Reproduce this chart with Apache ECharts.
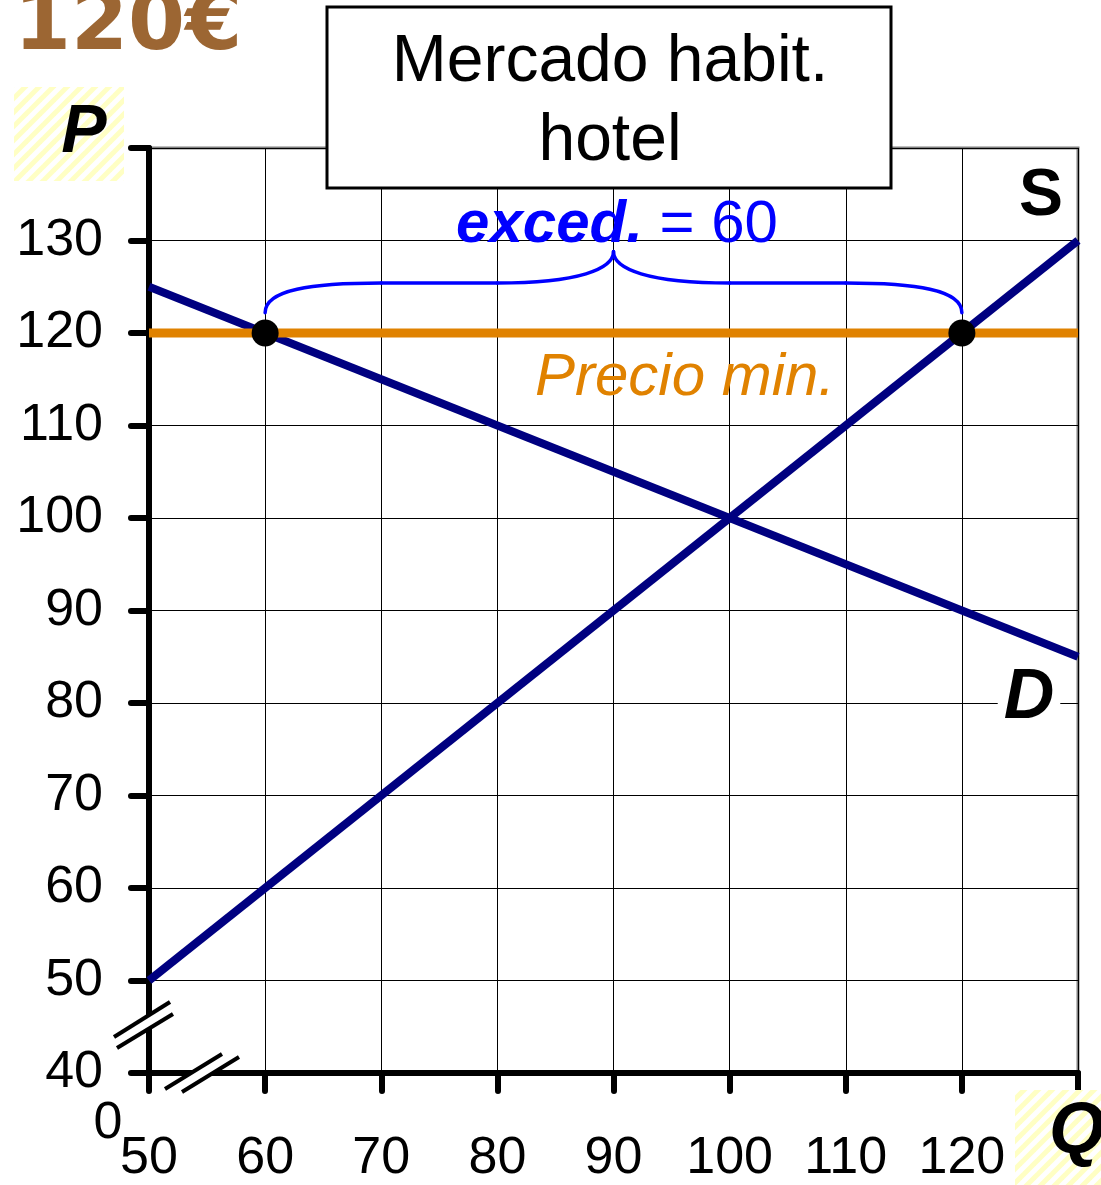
<!DOCTYPE html>
<html>
<head>
<meta charset="utf-8">
<script src="https://cdn.jsdelivr.net/npm/echarts@6/dist/echarts.min.js"></script>
<style>
  html, body { margin: 0; padding: 0; background: #fff; }
  #chart { width: 1101px; height: 1185px; }
</style>
</head>
<body>
<div id="chart"></div>
<script>
// datos del mercado (Q, P)
const demandQ = [50, 130]
const demandP = [125, 85]
const supplyQ = [50, 130]
const supplyP = [50, 130]
const floorPrice = 120
const floorQ = [60, 120]          // Qd, Qs con precio minimo
const xLabels = [50, 60, 70, 80, 90, 100, 110, 120]
const yLabels = [40, 50, 60, 70, 80, 90, 100, 110, 120, 130]
const excess = floorQ[1] - floorQ[0]

const SANS = "'Liberation Sans', Arial, sans-serif"

const chart = echarts.init(document.getElementById('chart'), null, { renderer: 'canvas' })

// trama rayada amarilla para P y Q
function hatch () {
  const c = document.createElement('canvas')
  c.width = 14
  c.height = 14
  const g = c.getContext('2d')
  g.fillStyle = '#fff'
  g.fillRect(0, 0, 14, 14)
  g.strokeStyle = '#FFFFC4'
  g.lineWidth = 5
  for (let k = -1; k <= 1; k++) {
    g.beginPath()
    g.moveTo(k * 14 - 2, 16)
    g.lineTo(k * 14 + 16, -2)
    g.stroke()
  }
  return { image: c, repeat: 'repeat' }
}

const axisStyle = { color: '#000', width: 6, cap: 'round' }

chart.setOption({
  animation: false,
  backgroundColor: '#fff',
  grid: {
    left: 149, top: 148, width: 929, height: 926,
    show: true, borderColor: '#808080', borderWidth: 3, backgroundColor: 'transparent'
  },
  xAxis: {
    type: 'value', min: 50, max: 130, interval: 10,
    axisLine: { lineStyle: axisStyle },
    axisTick: { length: 18, lineStyle: axisStyle },
    splitLine: { lineStyle: { color: '#000', width: 1 } },
    axisLabel: {
      fontFamily: SANS, fontSize: 52, color: '#000', margin: 86, verticalAlign: 'middle',
      formatter: v => xLabels.includes(v) ? String(v) : ''
    }
  },
  yAxis: {
    type: 'value', min: 40, max: 140, interval: 10,
    axisLine: { lineStyle: axisStyle },
    axisTick: { length: 18, lineStyle: axisStyle },
    splitLine: { lineStyle: { color: '#000', width: 1 } },
    axisLabel: {
      fontFamily: SANS, fontSize: 52, color: '#000', margin: 46,
      formatter: v => yLabels.includes(v) ? String(v) : ''
    }
  },
  series: [
    {
      name: 'D', type: 'line', symbol: 'none', z: 3,
      lineStyle: { color: '#000080', width: 8 },
      data: demandQ.map((q, i) => [q, demandP[i]])
    },
    {
      name: 'S', type: 'line', symbol: 'none', z: 3,
      lineStyle: { color: '#000080', width: 8 },
      data: supplyQ.map((q, i) => [q, supplyP[i]])
    },
    {
      name: 'Precio min.', type: 'line', symbol: 'none', z: 4,
      lineStyle: { color: '#E08200', width: 9 },
      data: [[demandQ[0], floorPrice], [demandQ[1], floorPrice]]
    },
    {
      type: 'scatter', symbolSize: 27, z: 5,
      itemStyle: { color: '#000', opacity: 1 },
      data: floorQ.map(q => [q, floorPrice])
    }
  ]
})

// anotaciones (llave, cortes de eje, textos)
const px = (x, y) => chart.convertToPixel({ gridIndex: 0 }, [x, y])
const L = px(floorQ[0], 122.2)
const R = px(floorQ[1], 122.2)
const T = px((floorQ[0] + floorQ[1]) / 2, 128.8)
const h = px(0, 125.4)[1]
const u = px(60, 0)[0] - px(50, 0)[0]
const braceStyle = { fill: 'none', stroke: '#0000FF', lineWidth: 3.5, lineCap: 'round' }
const bez = (x1, y1, cpx1, cpy1, cpx2, cpy2, x2, y2) => ({
  type: 'bezierCurve', z: 50,
  shape: { x1, y1, cpx1, cpy1, cpx2, cpy2, x2, y2 },
  style: braceStyle
})
const seg = (x1, y1, x2, y2) => ({ type: 'line', z: 50, shape: { x1, y1, x2, y2 }, style: braceStyle })
const brace = [
  bez(L[0], L[1], L[0], L[1] - 23, L[0] + 0.4 * u, h, L[0] + u, h),
  seg(L[0] + u, h, T[0] - u, h),
  bez(T[0] - u, h, T[0] - 0.3 * u, h, T[0], h - 14, T[0], T[1]),
  bez(T[0], T[1], T[0], h - 14, T[0] + 0.3 * u, h, T[0] + u, h),
  seg(T[0] + u, h, R[0] - u, h),
  bez(R[0] - u, h, R[0] - 0.4 * u, h, R[0], R[1] - 23, R[0], R[1])
]

const O = px(50, 40)
function breakMark (a, b, c, d) {
  const pts = [a, b, c, d].map(p => [O[0] + p[0], O[1] + p[1]])
  return [
    { type: 'polygon', z: 60, shape: { points: pts }, style: { fill: '#fff' } },
    { type: 'line', z: 61, shape: { x1: pts[0][0], y1: pts[0][1], x2: pts[1][0], y2: pts[1][1] }, style: { stroke: '#000', lineWidth: 4 } },
    { type: 'line', z: 61, shape: { x1: pts[3][0], y1: pts[3][1], x2: pts[2][0], y2: pts[2][1] }, style: { stroke: '#000', lineWidth: 4 } }
  ]
}

const hatchFill = hatch()

chart.setOption({
  graphic: [
    ...brace,
    ...breakMark([-35, -36], [21, -71], [24, -59], [-32, -25]),
    ...breakMark([16, 16], [73, -19], [90, -16], [33, 19]),
    {
      type: 'text', z: 70, x: 108, y: 1124,
      style: { text: '0', font: '52px ' + SANS, fill: '#000', align: 'center', verticalAlign: 'middle' }
    },
    {
      type: 'text', z: 70, x: 14, y: 28,
      style: { text: '120€', font: 'bold 82px "DejaVu Sans", sans-serif', fill: '#9C6633', align: 'left', verticalAlign: 'middle' }
    },
    { type: 'rect', z: 70, shape: { x: 327, y: 7, width: 564, height: 181 }, style: { fill: '#fff', stroke: '#000', lineWidth: 3 } },
    {
      type: 'text', z: 71, x: 610, y: 63,
      style: { text: 'Mercado habit.', font: '66px ' + SANS, fill: '#000', align: 'center', verticalAlign: 'middle' }
    },
    {
      type: 'text', z: 71, x: 610, y: 142,
      style: { text: 'hotel', font: '66px ' + SANS, fill: '#000', align: 'center', verticalAlign: 'middle' }
    },
    {
      type: 'text', z: 70, x: 617, y: 225,
      style: {
        text: '{b|exced.}{n| = ' + excess + '}',
        align: 'center', verticalAlign: 'middle',
        rich: {
          b: { font: 'italic bold 60px ' + SANS, fill: '#0000FF' },
          n: { font: '60px ' + SANS, fill: '#0000FF' }
        }
      }
    },
    {
      type: 'text', z: 70, x: 685, y: 378,
      style: { text: 'Precio min.', font: 'italic 60px ' + SANS, fill: '#E08200', align: 'center', verticalAlign: 'middle' }
    },
    {
      type: 'text', z: 70, x: 1041, y: 197,
      style: { text: 'S', font: 'bold 66px ' + SANS, fill: '#000', align: 'center', verticalAlign: 'middle' }
    },
    {
      type: 'text', z: 70, x: 1029, y: 699,
      style: { text: 'D', font: 'italic bold 70px ' + SANS, fill: '#000', align: 'center', verticalAlign: 'middle', backgroundColor: '#fff', padding: [0, 6] }
    },
    { type: 'rect', z: 70, shape: { x: 14, y: 87, width: 110, height: 94 }, style: { fill: hatchFill } },
    {
      type: 'text', z: 71, x: 84, y: 133,
      style: { text: 'P', font: 'italic bold 68px ' + SANS, fill: '#000', align: 'center', verticalAlign: 'middle' }
    },
    { type: 'rect', z: 70, shape: { x: 1015, y: 1090, width: 86, height: 95 }, style: { fill: hatchFill } },
    {
      type: 'text', z: 71, x: 1077, y: 1133,
      style: { text: 'Q', font: 'italic bold 72px ' + SANS, fill: '#000', align: 'center', verticalAlign: 'middle' }
    }
  ]
})
</script>
</body>
</html>
